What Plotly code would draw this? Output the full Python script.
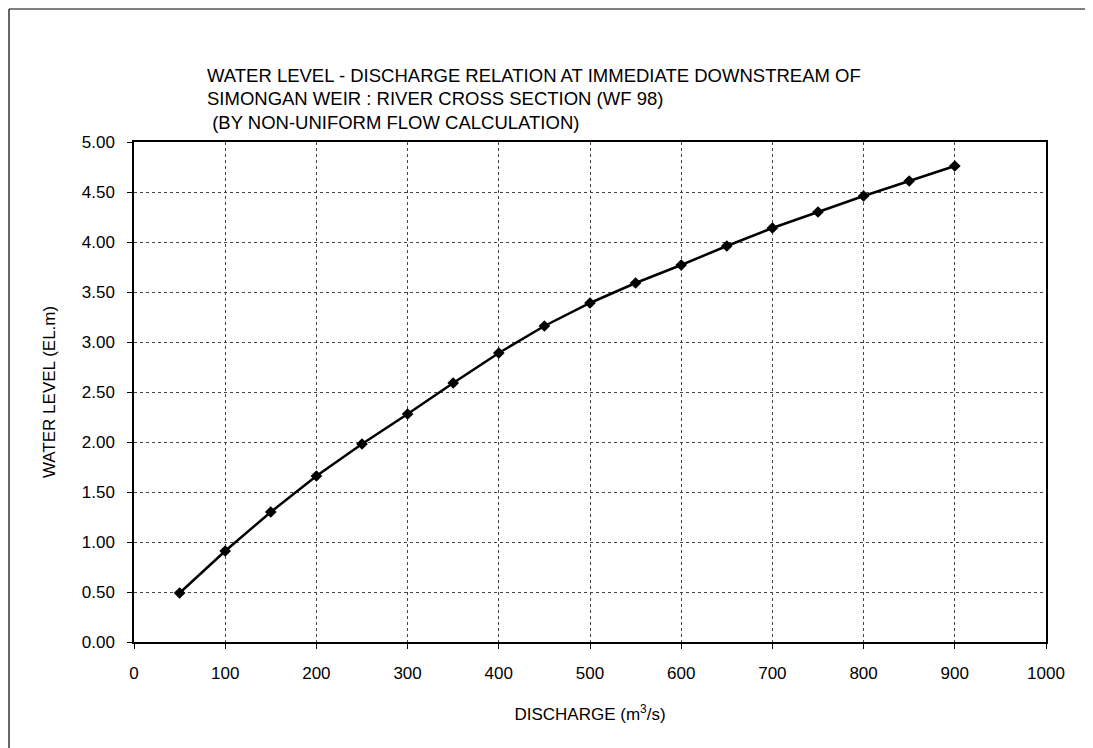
import plotly.graph_objects as go

discharge = [50, 100, 150, 200, 250, 300, 350, 400, 450, 500, 550, 600, 650, 700, 750, 800, 850, 900]
water_level = [0.49, 0.91, 1.30, 1.66, 1.98, 2.28, 2.59, 2.89, 3.16, 3.39, 3.59, 3.77, 3.96, 4.14, 4.30, 4.46, 4.61, 4.76]

x_ticks = [0, 100, 200, 300, 400, 500, 600, 700, 800, 900, 1000]
y_ticks = [0.0, 0.5, 1.0, 1.5, 2.0, 2.5, 3.0, 3.5, 4.0, 4.5, 5.0]

title_lines = [
    "WATER LEVEL - DISCHARGE RELATION AT IMMEDIATE DOWNSTREAM OF",
    "SIMONGAN WEIR : RIVER CROSS SECTION (WF 98)",
    " (BY NON-UNIFORM FLOW CALCULATION)",
]

FONT = "Liberation Sans, Arial, sans-serif"

# page has an 8px body margin; target plot box in page pixels
OFF = 8
L, R, T, B = 134, 1046, 142, 642
W, H = 1093, 748
PW, PH = R - L, B - T

def px_x(x):
    return (x - L) / PW

def px_y(y):
    return (B - y) / PH

fig = go.Figure()
fig.add_trace(go.Scatter(
    x=discharge, y=water_level, mode="lines+markers",
    line=dict(color="black", width=2.5),
    marker=dict(symbol="diamond", size=9, color="black"),
    showlegend=False,
))

axis_common = dict(
    showline=True, linecolor="black", linewidth=1.5, mirror=True,
    showgrid=True, gridcolor="#444444", griddash="dot", gridwidth=1,
    zeroline=False, ticks="outside", ticklen=5, tickcolor="black",
    tickfont=dict(family=FONT, size=17, color="black"),
)

fig.update_xaxes(
    range=[0, 1000], tickvals=x_ticks, ticktext=[str(v) for v in x_ticks],
    ticklabelstandoff=10,
    title=dict(text="DISCHARGE (m<sup>3</sup>/s)", font=dict(family=FONT, size=17, color="black"), standoff=26),
    **axis_common,
)
fig.update_yaxes(
    range=[0, 5], tickvals=y_ticks, ticktext=[f"{v:.2f}" for v in y_ticks],
    ticklabelstandoff=9,
    title=dict(text="WATER LEVEL (EL.m)", font=dict(family=FONT, size=17, color="black"), standoff=22),
    **axis_common,
)

title_y = [75, 99, 123]
for line, ty in zip(title_lines, title_y):
    fig.add_annotation(
        text=line, xref="paper", yref="paper",
        x=px_x(205), y=px_y(ty),
        xanchor="left", yanchor="middle", align="left", showarrow=False,
        font=dict(family=FONT, size=18.5, color="black"),
    )

# outer frame lines (left and top)
fig.add_shape(type="line", xref="paper", yref="paper",
              x0=px_x(9), x1=px_x(1093), y0=px_y(9), y1=px_y(9),
              line=dict(color="black", width=1.2))
fig.add_shape(type="line", xref="paper", yref="paper",
              x0=px_x(9), x1=px_x(9), y0=px_y(9), y1=px_y(748),
              line=dict(color="black", width=1.2))

fig.update_layout(
    width=W, height=H,
    margin=dict(l=L - OFF, r=W - R + OFF, t=T - OFF, b=H - B + OFF),
    paper_bgcolor="white", plot_bgcolor="white",
    font=dict(family=FONT, color="black"),
)

fig.write_html("out.html")
